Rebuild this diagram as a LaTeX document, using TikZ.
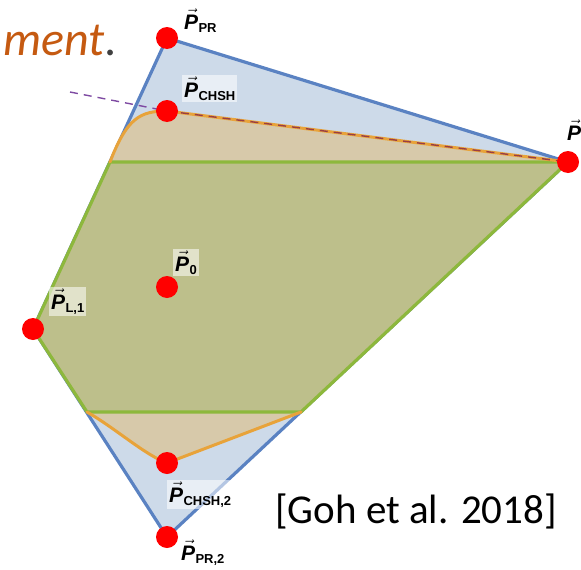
\documentclass[tikz,border=0pt]{standalone}
\usepackage{fontspec}
\setmainfont{Carlito}
\newfontfamily\lblfont{Liberation Sans}
\definecolor{bluefill}{HTML}{CDDAE9}
\definecolor{bluestroke}{HTML}{5A82C2}
\definecolor{greenfill}{HTML}{BDBF8B}
\definecolor{greenstroke}{HTML}{8DB83C}
\definecolor{tanfill}{HTML}{D7C9AA}
\definecolor{orangestroke}{HTML}{E8A33A}
\definecolor{dashpurple}{HTML}{7E4AA2}
\definecolor{dashbrown}{HTML}{9A3E44}
\definecolor{titleorange}{HTML}{C55A11}
\definecolor{dotred}{HTML}{FF0000}
\newcommand\plab[1]{{\lblfont\fontsize{21}{23}\selectfont$\vec{\mbox{\bfseries\itshape P}}$\kern0.3pt\raisebox{-3pt}{\fontsize{13}{13}\selectfont\bfseries #1}}}
\tikzset{
  dot/.style={circle, fill=dotred, minimum size=22pt, inner sep=0pt},
  lbl/.style={anchor=base west, inner sep=2pt},
  lblbox/.style={lbl, fill=white, fill opacity=0.55, text opacity=1},
  bluepoly/.style={fill=bluefill, draw=bluestroke, line width=3.2pt, line join=round},
  greenpoly/.style={fill=greenfill, draw=greenstroke, line width=3.2pt, line join=round},
  tanregion/.style={fill=tanfill},
  orangeline/.style={draw=orangestroke, line width=3pt, line cap=round},
  dashline/.style={line width=1.4pt, dash pattern=on 8pt off 6pt},
}
\begin{document}
\begin{tikzpicture}[x=1pt,y=-1pt]
\useasboundingbox (0,0) rectangle (581,570);
% vertex positions
\coordinate (cpr) at (167,38);
\coordinate (cchsh) at (167,111);
\coordinate (cright) at (568,162);
\coordinate (cl1) at (33,329);
\coordinate (cp0) at (167,287);
\coordinate (cchsh2) at (167,463);
\coordinate (cpr2) at (167,537);
\coordinate (gtl) at (110,162);
\coordinate (gbl) at (87,412);
\coordinate (gbr) at (301,412);
\coordinate (dstart) at (70,92);
% blue polytope
\path[bluepoly] (cpr) -- (cright) -- (cpr2) -- (cl1) -- cycle;
% tan (quantum) regions
\path[tanregion] (gtl) .. controls (127,118) and (140,111) .. (cchsh) -- (cright) -- cycle;
\path[tanregion] (gbl) .. controls (115,428) and (145,455) .. (cchsh2) -- (gbr) -- cycle;
% green (local) polytope
\path[greenpoly] (gtl) -- (cright) -- (gbr) -- (gbl) -- (cl1) -- cycle;
% orange boundaries
\draw[orangeline] (gtl) .. controls (127,118) and (140,111) .. (cchsh) -- (cright);
\draw[orangeline] (gbl) .. controls (115,428) and (145,455) .. (cchsh2) -- (gbr);
% dashed inequality line
\draw[dashline, draw=dashpurple] (dstart) -- (cchsh);
\draw[dashline, draw=dashbrown] (cchsh) -- (cright);
% points
\node[dot] (pr) at (cpr) {};
\node[dot] (chsh) at (cchsh) {};
\node[dot] (pright) at (cright) {};
\node[dot] (l1) at (cl1) {};
\node[dot] (p0) at (cp0) {};
\node[dot] (chsh2) at (cchsh2) {};
\node[dot] (pr2) at (cpr2) {};
% labels
\node[lbl] (tpr) at (182,29) {\plab{PR}};
\node[lblbox] (tchsh) at (182,97) {\plab{CHSH}};
\node[lbl] (tright) at (565,140) {\plab{}};
\node[lblbox] (tp0) at (173,271) {\plab{0}};
\node[lblbox] (tl1) at (49,309) {\plab{L,1}};
\node[lblbox] (tchsh2) at (167,502) {\plab{CHSH,2}};
\node[lbl] (tpr2) at (179,560) {\plab{PR,2}};
% texts
\node[anchor=base east, inner sep=0pt, font=\fontsize{48}{52}\selectfont] (title) at (117,55) {\textcolor{titleorange}{\itshape ment}\textcolor{black!75}{.}};
\node[anchor=base, inner sep=0pt, font=\fontsize{41}{46}\selectfont] (cite) at (416,523) {[Goh et al. 2018]};
\end{tikzpicture}
\end{document}
